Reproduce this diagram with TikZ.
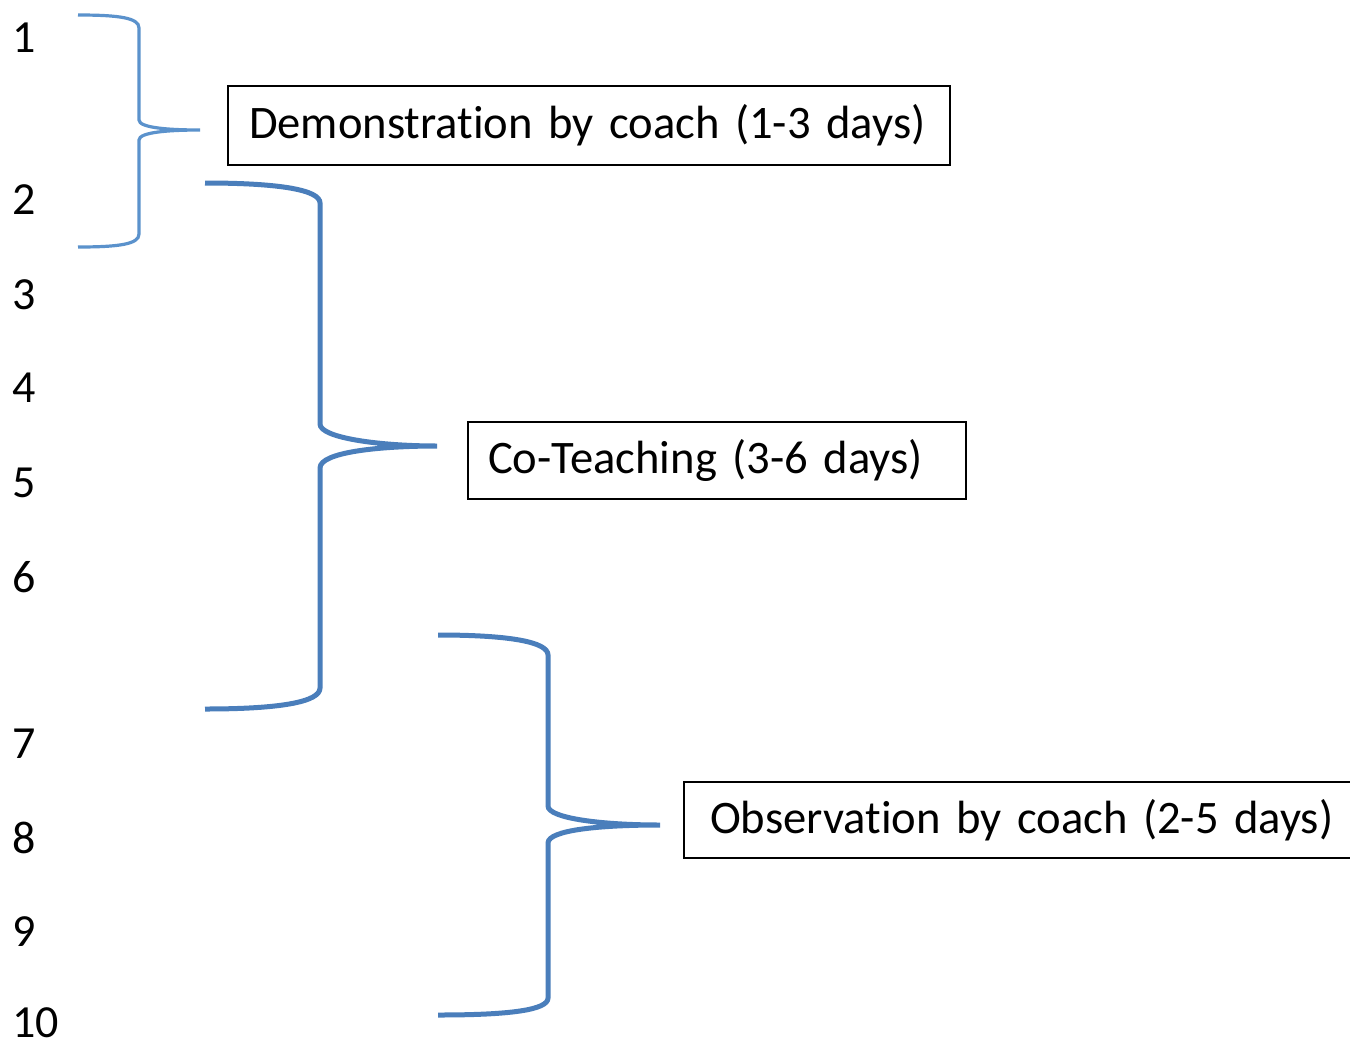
\documentclass[tikz,border=0pt]{standalone}
\usepackage{fontspec}
\setmainfont{Carlito}[RawFeature={-liga;-dlig}]
\definecolor{braceA}{HTML}{5B92CC}
\definecolor{braceB}{HTML}{4A7EBB}
\begin{document}
\begin{tikzpicture}[x=0.5pt,y=-0.5pt,
  num/.style={anchor=west,inner sep=0pt,font=\fontsize{23}{27}\selectfont},
  boxlabel/.style={draw=black,line width=1pt,anchor=north west,align=left,inner ysep=0pt,font=\fontsize{23.3}{27}\selectfont},
  bracethin/.style={draw=braceA,line width=1.6pt},
  bracethick/.style={draw=braceB,line width=2.5pt}]
\clip (0,0) rectangle (1350,1045);
\fill[white] (0,0) rectangle (1350,1045);
% numbers
\node[num] (n1) at (12,38) {1};
\node[num] (n2) at (12,200) {2};
\node[num] (n3) at (12,295) {3};
\node[num] (n4) at (12,388) {4};
\node[num] (n5) at (12,483) {5};
\node[num] (n6) at (12,577) {6};
\node[num] (n7) at (12,744) {7};
\node[num] (n8) at (12,838) {8};
\node[num] (n9) at (12,932) {9};
\node[num] (n10) at (12,1023) {10};
% boxes
\node[boxlabel,inner xsep=21*0.5pt,text width=680*0.5pt,minimum height=79*0.5pt] (b1) at (227,85) {Demonstration by coach (1-3 days)};
\node[boxlabel,inner xsep=20*0.5pt,text width=458*0.5pt,minimum height=77*0.5pt] (b2) at (467,421) {Co-Teaching (3-6 days)};
\node[boxlabel,inner xsep=26*0.5pt,text width=650*0.5pt,minimum height=76*0.5pt] (b3) at (683,781) {Observation by coach (2-5 days)};
% brace tips
\coordinate (t1) at (200,130);
\coordinate (t2) at (437,446);
\coordinate (t3) at (660,825);
% braces
\draw[bracethin] (78,15) .. controls (120,15) and (139,18) .. (139,28) -- (139,120)
  .. controls (139,128) and (170,130) .. (t1)
  .. controls (170,130) and (139,132) .. (139,140) -- (139,234)
  .. controls (139,244) and (120,247) .. (78,247);
\draw[bracethick] (205,183) .. controls (280,183) and (320,190) .. (320,203) -- (320,424)
  .. controls (320,438) and (380,446) .. (t2)
  .. controls (380,446) and (320,452) .. (320,468) -- (320,688)
  .. controls (320,702) and (280,709) .. (205,709);
\draw[bracethick] (438,635) .. controls (510,635) and (548,642) .. (548,655) -- (548,806)
  .. controls (548,818) and (600,825) .. (t3)
  .. controls (600,825) and (548,830) .. (548,843) -- (548,998)
  .. controls (548,1010) and (510,1015) .. (438,1015);
\end{tikzpicture}
\end{document}
